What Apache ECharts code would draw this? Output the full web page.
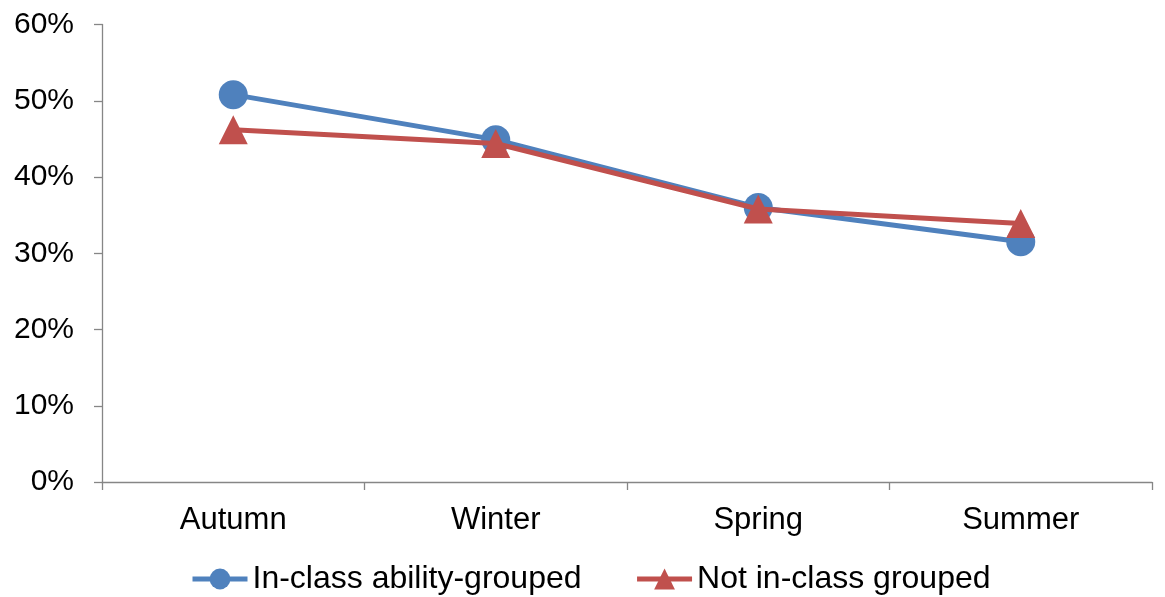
<!DOCTYPE html>
<html>
<head>
<meta charset="utf-8">
<script src="https://cdn.jsdelivr.net/npm/echarts@6/dist/echarts.min.js"></script>
<style>
  html, body { margin: 0; padding: 0; background: #ffffff; }
  #chart { width: 1165px; height: 597px; }
</style>
</head>
<body>
<div id="chart"></div>
<script>
// Share of pupils by term
const seasons = ['Autumn', 'Winter', 'Spring', 'Summer'];
const abilityGrouped = [0.508, 0.449, 0.360, 0.315];
const notGrouped = [0.462, 0.444, 0.358, 0.339];
const seriesNames = ['In-class ability-grouped', 'Not in-class grouped'];

const FONT = '"Liberation Sans", Arial, sans-serif';
const AXIS_GRAY = '#868686';
const BLUE = '#4F81BD';
const RED = '#C0504D';

const chart = echarts.init(document.getElementById('chart'), null, { renderer: 'canvas' });

chart.setOption({
  animation: false,
  backgroundColor: '#ffffff',
  grid: { left: 102, right: 13, top: 24.5, bottom: 115, containLabel: false },
  legend: {
    top: 563,
    left: 190,
    padding: 0,
    itemWidth: 55,
    itemHeight: 26,
    itemGap: 53,
    lineStyle: { width: 5 },
    textStyle: { fontFamily: FONT, fontSize: 32, color: '#000000' },
    data: seriesNames
  },
  xAxis: {
    type: 'category',
    data: seasons,
    boundaryGap: true,
    axisLine: { lineStyle: { color: AXIS_GRAY, width: 1.3 } },
    axisTick: { show: true, length: 8, alignWithLabel: false, lineStyle: { color: AXIS_GRAY, width: 1.3 } },
    axisLabel: { fontFamily: FONT, fontSize: 31, color: '#000000', margin: 23 },
    splitLine: { show: false }
  },
  yAxis: {
    type: 'value',
    min: 0,
    max: 0.6,
    interval: 0.1,
    axisLine: { show: true, lineStyle: { color: AXIS_GRAY, width: 1.3 } },
    axisTick: { show: true, length: 8, lineStyle: { color: AXIS_GRAY, width: 1.3 } },
    axisLabel: {
      fontFamily: FONT, fontSize: 30, color: '#000000', margin: 28,
      formatter: v => Math.round(v * 100) + '%'
    },
    splitLine: { show: false }
  },
  series: [
    {
      name: seriesNames[0],
      type: 'line',
      data: abilityGrouped,
      symbol: 'circle',
      symbolSize: 29,
      itemStyle: { color: BLUE },
      lineStyle: { color: BLUE, width: 5 },
      z: 2
    },
    {
      name: seriesNames[1],
      type: 'line',
      data: notGrouped,
      symbol: 'triangle',
      symbolSize: 29,
      itemStyle: { color: RED },
      lineStyle: { color: RED, width: 5 },
      z: 3
    }
  ]
});
</script>
</body>
</html>
